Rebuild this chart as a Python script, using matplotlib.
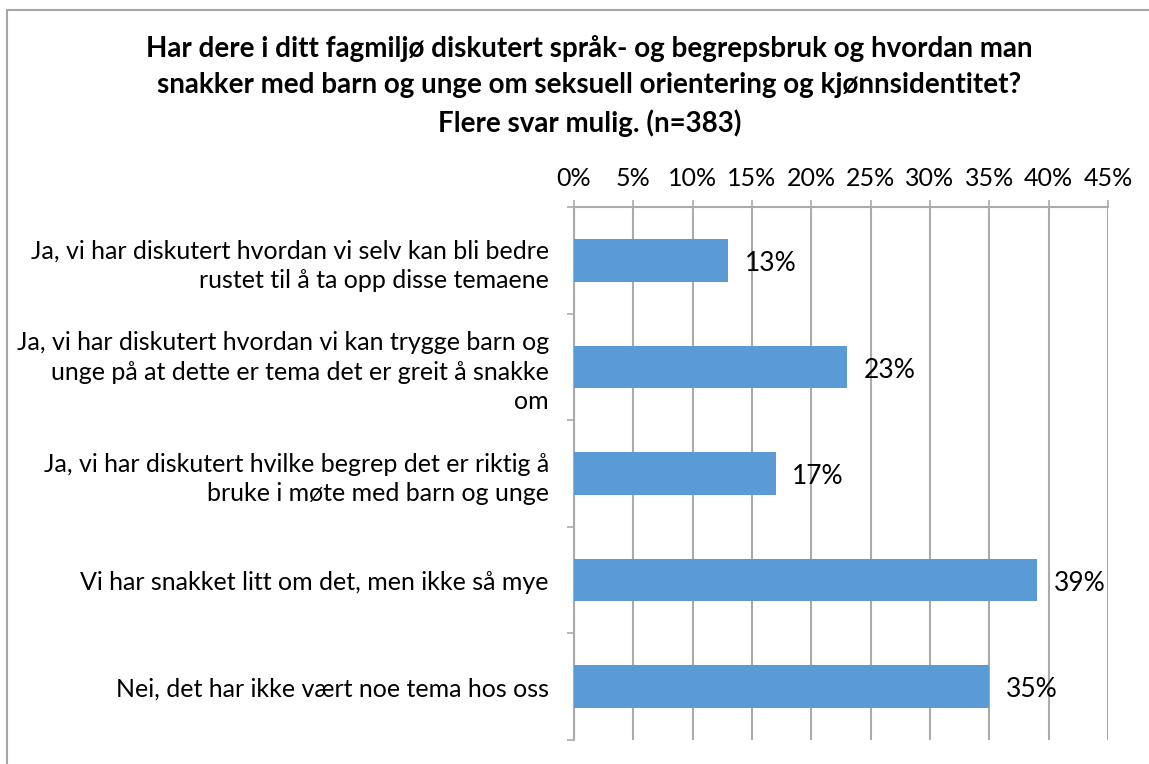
import matplotlib.pyplot as plt
from matplotlib.patches import Rectangle
from matplotlib.ticker import FixedLocator

plt.rcParams["font.family"] = ["Lato", "DejaVu Sans"]

# Data
categories = [
    "Ja, vi har diskutert hvordan vi selv kan bli bedre\nrustet til å ta opp disse temaene",
    "Ja, vi har diskutert hvordan vi kan trygge barn og\nunge på at dette er tema det er greit å snakke\nom",
    "Ja, vi har diskutert hvilke begrep det er riktig å\nbruke i møte med barn og unge",
    "Vi har snakket litt om det, men ikke så mye",
    "Nei, det har ikke vært noe tema hos oss",
]
values = [13, 23, 17, 39, 35]
x_ticks = [0, 5, 10, 15, 20, 25, 30, 35, 40, 45]
title = ("Har dere i ditt fagmiljø diskutert språk- og begrepsbruk og hvordan man\n"
         "snakker med barn og unge om seksuell orientering og kjønnsidentitet?\n"
         "Flere svar mulig. (n=383)")

BAR_COLOR = "#5B9BD5"
GRID_COLOR = "#ABABAB"

fig = plt.figure(figsize=(11.49, 7.64), dpi=100)
fig.patches.append(Rectangle((7 / 1149, -0.1), 1.2, 1.1 - 10 / 764,
                             transform=fig.transFigure, fill=False,
                             edgecolor="#A6A6A6", linewidth=1.5))

ax = fig.add_axes([574 / 1149, 1 - 740 / 764, (1108 - 574) / 1149, (740 - 207) / 764])

y = list(range(len(categories)))
ax.barh(y, values, height=0.4, color=BAR_COLOR, zorder=3)
ax.set_ylim(len(categories) - 0.5, -0.5)
ax.set_xlim(0, 45)

for yi, v in zip(y, values):
    ax.text(v + 1.4, yi + 0.03, f"{v}%", va="center", ha="left", fontsize=19, zorder=4)

# x axis on top
ax.xaxis.tick_top()
ax.set_xticks(x_ticks)
ax.set_xticklabels([f"{t}%" for t in x_ticks], fontsize=18)
ax.tick_params(axis="x", length=5, width=1.2, color=GRID_COLOR, pad=7)
ax.grid(axis="x", color=GRID_COLOR, linewidth=1.5, zorder=0)

# y axis
ax.set_yticks(y)
ax.set_yticklabels(categories, fontsize=18, linespacing=1.35, ha="right")
ax.tick_params(axis="y", which="major", length=0, pad=18)
ax.yaxis.set_minor_locator(FixedLocator([i - 0.5 for i in range(len(categories) + 1)]))
ax.tick_params(axis="y", which="minor", length=5, width=1.2, color=GRID_COLOR)

for s in ["right", "bottom"]:
    ax.spines[s].set_visible(False)
ax.spines["left"].set_color(GRID_COLOR)
ax.spines["left"].set_linewidth(1.5)
ax.spines["top"].set_color(GRID_COLOR)
ax.spines["top"].set_linewidth(1.5)

fig.text(0.513, 1 - 35 / 764, title, ha="center", va="top", fontsize=20,
         fontweight="bold", linespacing=1.5)

fig.savefig("out.png", dpi=100, facecolor="white")
